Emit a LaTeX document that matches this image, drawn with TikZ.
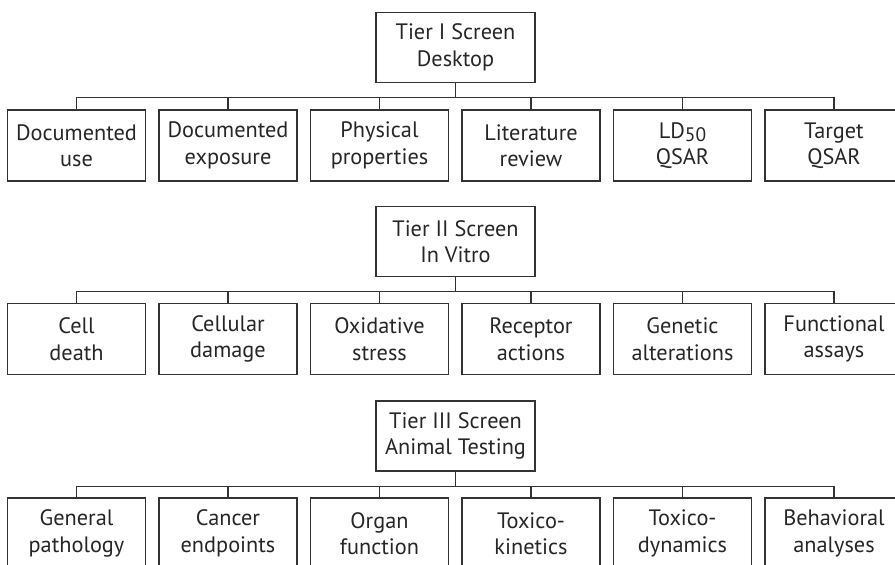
\documentclass[tikz,border=0pt]{standalone}
\usepackage{fontspec}
\setmainfont{PT Sans}
\begin{document}
\begin{tikzpicture}[x=1pt,y=-1pt,
  line width=1.1pt,
  every node/.style={font=\fontsize{22.3}{26.5}\selectfont, text=black!85},
  tierbox/.style={draw=black!80, align=center, minimum width=159pt, minimum height=70pt, inner sep=0pt},
  leafbox/.style={draw=black!80, align=center, minimum width=138pt, minimum height=71pt, inner sep=0pt},
  link/.style={draw=black!80, line width=1.1pt}]
\useasboundingbox (0,0) rectangle (895,565);
% Tier I
\node[tierbox] (t1) at (455.5,47.5) {Tier I Screen\\Desktop};
\node[leafbox] (a1) at (76.5,145.5) {Documented\\use};
\node[leafbox] (a2) at (228,145.5) {Documented\\exposure};
\node[leafbox] (a3) at (379.5,145.5) {Physical\\properties};
\node[leafbox] (a4) at (531,145.5) {Literature\\review};
\node[leafbox] (a5) at (682.5,145.5) {LD\raisebox{-0.3ex}{\fontsize{19.5}{19.5}\selectfont 50}\\QSAR};
\node[leafbox] (a6) at (834,145.5) {Target\\QSAR};
% Tier II
\node[tierbox] (t2) at (455.5,241.5) {Tier II Screen\\In Vitro};
\node[leafbox] (b1) at (76.5,339) {Cell\\death};
\node[leafbox] (b2) at (228,339) {Cellular\\damage};
\node[leafbox] (b3) at (379.5,339) {Oxidative\\stress};
\node[leafbox] (b4) at (531,339) {Receptor\\actions};
\node[leafbox] (b5) at (682.5,339) {Genetic\\alterations};
\node[leafbox] (b6) at (834,339) {Functional\\assays};
% Tier III
\node[tierbox] (t3) at (455.5,436) {Tier III Screen\\Animal Testing};
\node[leafbox] (c1) at (76.5,533.5) {General\\pathology};
\node[leafbox] (c2) at (228,533.5) {Cancer\\endpoints};
\node[leafbox] (c3) at (379.5,533.5) {Organ\\function};
\node[leafbox] (c4) at (531,533.5) {Toxico-\\kinetics};
\node[leafbox] (c5) at (682.5,533.5) {Toxico-\\dynamics};
\node[leafbox] (c6) at (834,533.5) {Behavioral\\analyses};
% connectors
\foreach \t/\c in {t1/a,t2/b,t3/c}{
  \foreach \i in {1,...,6}{
    \draw[link] (\t.south) -- ++(0,14.5) -| (\c\i.north);
  }
}
\end{tikzpicture}
\end{document}
